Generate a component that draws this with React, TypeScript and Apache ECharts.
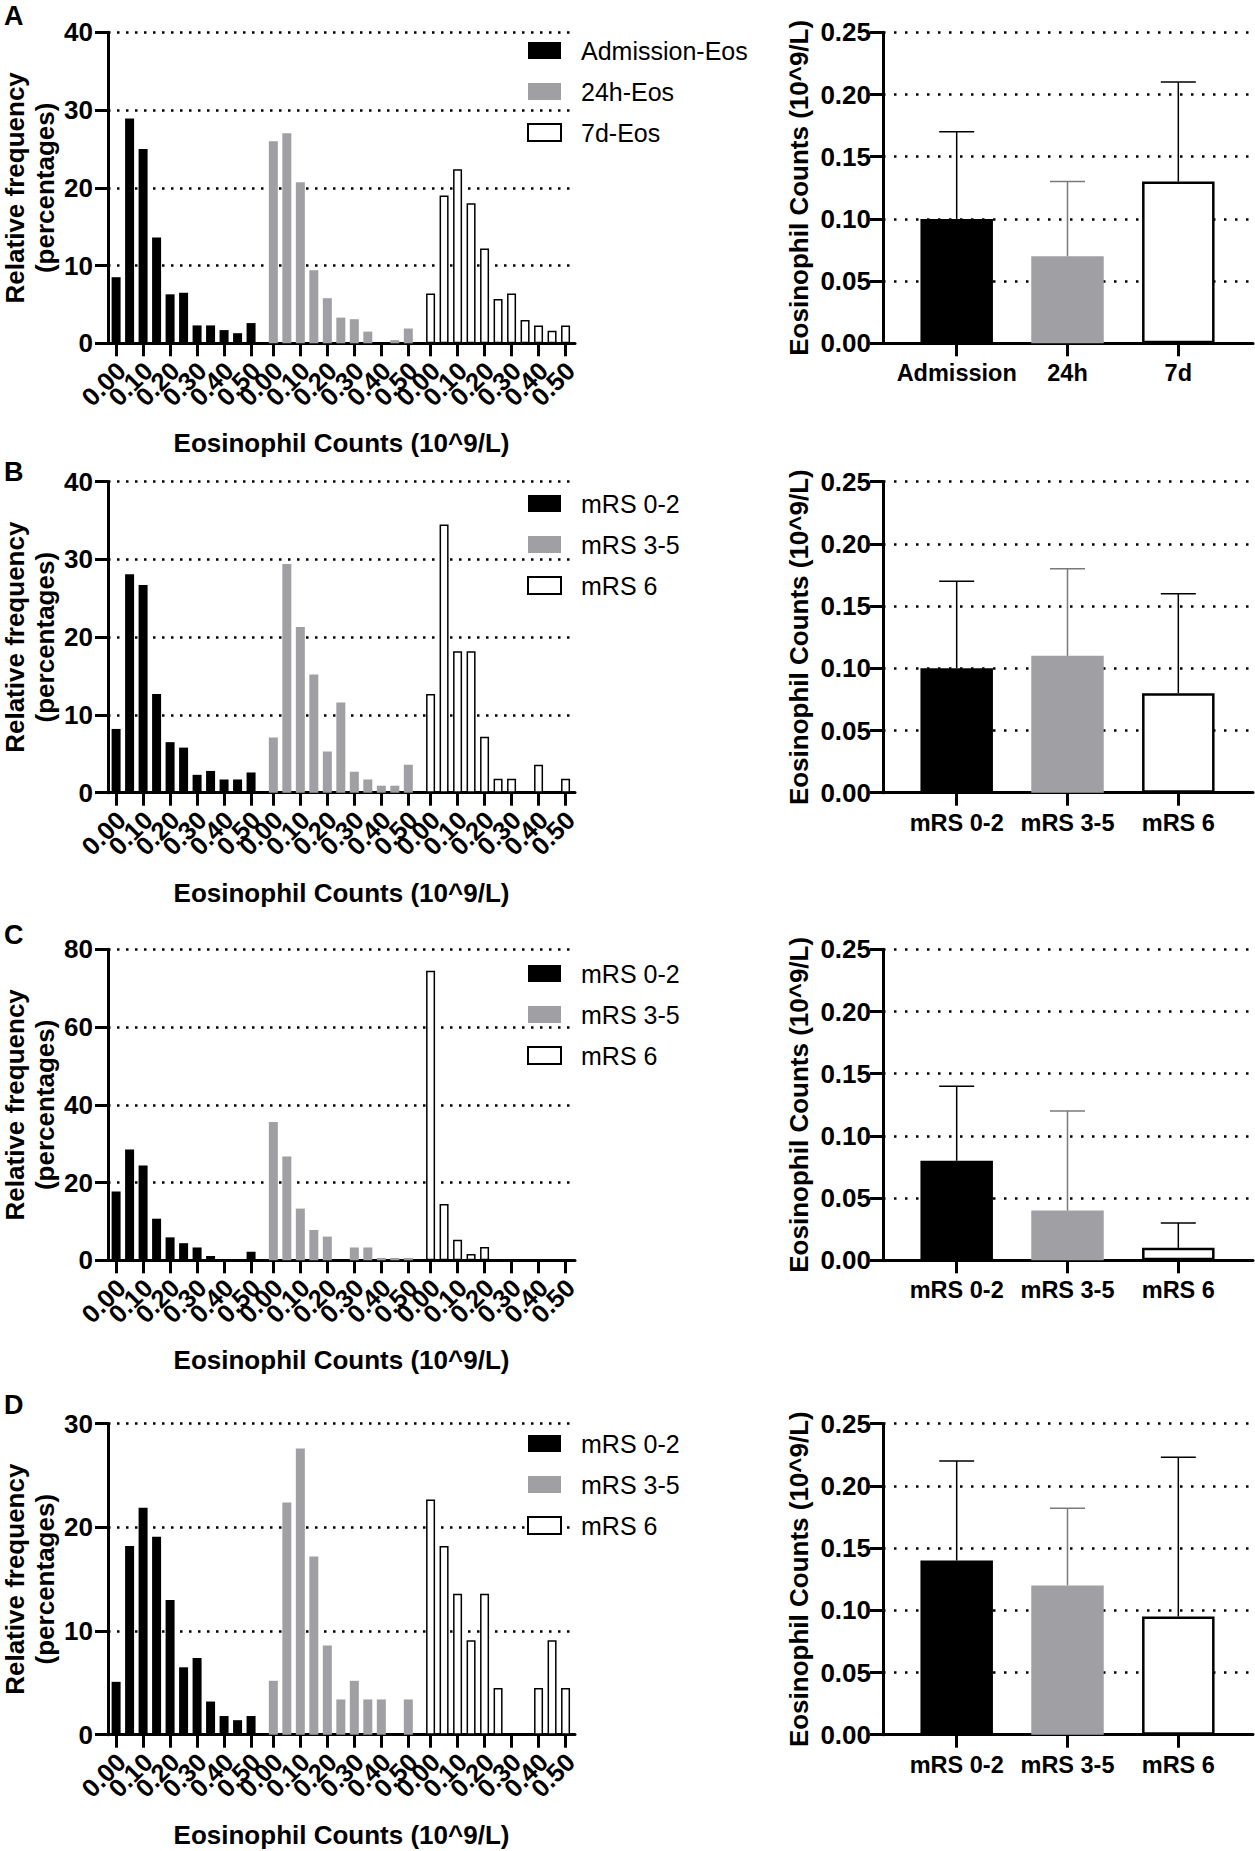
import React, { useEffect, useRef } from 'react';
import * as echarts from 'echarts';

const FONT = "'Liberation Sans', Arial, Helvetica, sans-serif";

// ---- histogram bins (10^9/L) ----
const BINS = [0.0, 0.05, 0.1, 0.15, 0.2, 0.25, 0.3, 0.35, 0.4, 0.45, 0.5];
const BIN_TICKS = [0.0, 0.1, 0.2, 0.3, 0.4, 0.5];
const BIN_TICK_LABELS = ['0.00', '0.10', '0.20', '0.30', '0.40', '0.50'];

// ---- panel A ----
const A_LEGEND = ['Admission-Eos', '24h-Eos', '7d-Eos'];
const A_ADMISSION = [8.5, 28.9, 25.0, 13.6, 6.3, 6.5, 2.3, 2.3, 1.7, 1.3, 2.6];
const A_24H = [26.0, 27.0, 20.7, 9.4, 5.8, 3.3, 3.1, 1.5, 0, 0.4, 1.9];
const A_7D = [6.4, 19.0, 22.4, 18.0, 12.2, 5.7, 6.4, 3.0, 2.3, 1.6, 2.3];
const A_CATS = ['Admission', '24h', '7d'];
const A_MEANS = [0.1, 0.07, 0.13];
const A_UPPER = [0.17, 0.13, 0.21];

// ---- panel B ----
const MRS_LEGEND = ['mRS 0-2', 'mRS 3-5', 'mRS 6'];
const MRS_CATS = ['mRS 0-2', 'mRS 3-5', 'mRS 6'];
const B_MRS02 = [8.2, 28.1, 26.7, 12.7, 6.5, 5.8, 2.3, 2.8, 1.7, 1.7, 2.6];
const B_MRS35 = [7.1, 29.4, 21.3, 15.2, 5.3, 11.6, 2.7, 1.7, 0.9, 0.9, 3.6];
const B_MRS6 = [12.7, 34.5, 18.2, 18.2, 7.2, 1.8, 1.8, 0, 3.6, 0, 1.8];
const B_MEANS = [0.1, 0.11, 0.08];
const B_UPPER = [0.17, 0.18, 0.16];

// ---- panel C ----
const C_MRS02 = [17.7, 28.5, 24.4, 10.7, 5.9, 4.4, 3.3, 1.1, 0, 0, 2.2];
const C_MRS35 = [35.6, 26.7, 13.3, 7.8, 6.1, 0, 3.3, 3.3, 0.6, 0.6, 0.6];
const C_MRS6 = [74.5, 14.5, 5.3, 1.6, 3.4, 0, 0, 0, 0, 0, 0];
const C_MEANS = [0.08, 0.04, 0.01];
const C_UPPER = [0.14, 0.12, 0.03];

// ---- panel D ----
const D_MRS02 = [5.1, 18.2, 21.9, 19.1, 13.0, 6.5, 7.4, 3.2, 1.8, 1.4, 1.8];
const D_MRS35 = [5.2, 22.4, 27.6, 17.2, 8.6, 3.4, 5.2, 3.4, 3.4, 0, 3.4];
const D_MRS6 = [22.7, 18.2, 13.6, 9.1, 13.6, 4.5, 0, 0, 4.5, 9.1, 4.5];
const D_MEANS = [0.14, 0.12, 0.095];
const D_UPPER = [0.22, 0.182, 0.223];

// ---- axis ranges ----
const HIST_Y_MAX = [40, 40, 80, 30];
const HIST_Y_INTERVAL = [10, 10, 20, 10];
const BAR_Y_MAX = 0.25;
const BAR_Y_INTERVAL = 0.05;
const LETTERS = ['A', 'B', 'C', 'D'];

// ---- layout ----
const W = 1255;
const H = 1851;
const GRID_TOPS = [32.3, 481.7, 949.3, 1423.7];
const GRID_H = 311;
const HIST_LEFT = 108;
const HIST_W = 467;
const BAR_LEFT = 883;
const BAR_W = 370;
const LEGEND_TOPS = [38, 491, 961, 1431];
const LETTER_TOPS = [2, 458, 921, 1391];
const GROUP_OFFSET = 0.5825;
const HIST_X_MIN = -0.03;
const HIST_X_MAX = 1.7;
const BAR_X_MIN = -0.665;
const BAR_X_MAX = 2.674;

const BLACK = '#000000';
const GRAY = '#a0a0a4';
const GRAY_ERR = '#7a7a7a';

const histStyles = [
  { color: BLACK },
  { color: GRAY },
  { color: '#ffffff', borderColor: BLACK, borderWidth: 1.5 },
];
const barStyles = [
  { color: BLACK },
  { color: GRAY },
  { color: '#ffffff', borderColor: BLACK, borderWidth: 2.5 },
];
const errColors = [BLACK, GRAY_ERR, BLACK];

const HIST_DATA = [
  [A_ADMISSION, A_24H, A_7D],
  [B_MRS02, B_MRS35, B_MRS6],
  [C_MRS02, C_MRS35, C_MRS6],
  [D_MRS02, D_MRS35, D_MRS6],
];
const LEGENDS = [A_LEGEND, MRS_LEGEND, MRS_LEGEND, MRS_LEGEND];
const CATS = [A_CATS, MRS_CATS, MRS_CATS, MRS_CATS];
const MEANS = [A_MEANS, B_MEANS, C_MEANS, D_MEANS];
const UPPERS = [A_UPPER, B_UPPER, C_UPPER, D_UPPER];

// tick positions of the three side-by-side histograms on one shared value axis
const TICK_VALUES: number[] = [];
const TICK_TEXT: string[] = [];
for (let g = 0; g < 3; g++) {
  BIN_TICKS.forEach((t, k) => {
    TICK_VALUES.push(g * GROUP_OFFSET + t);
    TICK_TEXT.push(BIN_TICK_LABELS[k]);
  });
}
// labels split in two interleaved sets so that no label gets hidden as "overlapping"
const TICK_EVEN = TICK_VALUES.filter((_, i) => i % 2 === 0);
const TICK_ODD = TICK_VALUES.filter((_, i) => i % 2 === 1);

function nearestTick(v: number) {
  let best = 0;
  let bd = Infinity;
  TICK_VALUES.forEach((t, i) => {
    const d = Math.abs(t - v);
    if (d < bd) {
      bd = d;
      best = i;
    }
  });
  return TICK_TEXT[best];
}

const labelBase = {
  color: BLACK,
  fontFamily: FONT,
  fontWeight: 'bold' as const,
};
const titleStyle = {
  color: BLACK,
  fontFamily: FONT,
  fontWeight: 'bold' as const,
  fontSize: 26,
};
const axisLine = { show: true, onZero: false, lineStyle: { color: BLACK, width: 3 } };
const axisTick = { show: true, length: 13, lineStyle: { color: BLACK, width: 3 } };

const rotatedLabel = {
  ...labelBase,
  fontSize: 25.5,
  interval: 0,
  rotate: 45,
  margin: 18,
  align: 'right',
  verticalAlign: 'top',
  lineHeight: 14,
  showMinLabel: true,
  showMaxLabel: true,
  hideOverlap: false,
  formatter: (v: number) => nearestTick(v),
};

function buildOption() {
  const grid: any[] = [];
  const xAxis: any[] = [];
  const yAxis: any[] = [];
  const series: any[] = [];
  const legend: any[] = [];
  const graphic: any[] = [];

  for (let p = 0; p < 4; p++) {
    const hg = 2 * p; // histogram grid
    const bg = 2 * p + 1; // bar grid
    const hx = 3 * p; // histogram x axis (line, ticks, even labels)
    const bx = 3 * p + 2; // bar x axis
    const hy = 2 * p;
    const by = 2 * p + 1;

    grid.push({ left: HIST_LEFT, top: GRID_TOPS[p], width: HIST_W, height: GRID_H, containLabel: false, outerBoundsMode: 'none' });
    grid.push({ left: BAR_LEFT, top: GRID_TOPS[p], width: BAR_W, height: GRID_H, containLabel: false, outerBoundsMode: 'none' });

    xAxis.push({
      gridIndex: hg,
      type: 'value',
      position: 'bottom',
      min: HIST_X_MIN,
      max: HIST_X_MAX,
      axisLine,
      axisTick: { ...axisTick, customValues: TICK_VALUES },
      axisLabel: { ...rotatedLabel, customValues: TICK_EVEN },
      splitLine: { show: false },
      name: 'Eosinophil Counts (10^9/L)',
      nameLocation: 'middle',
      nameGap: 87,
      nameMoveOverlap: false,
      nameTextStyle: titleStyle,
    });
    xAxis.push({
      gridIndex: hg,
      type: 'value',
      position: 'bottom',
      min: HIST_X_MIN,
      max: HIST_X_MAX,
      axisLine: { show: false, onZero: false },
      axisTick: { show: false },
      axisLabel: { ...rotatedLabel, customValues: TICK_ODD },
      splitLine: { show: false },
    });
    yAxis.push({
      gridIndex: hg,
      type: 'value',
      min: 0,
      max: HIST_Y_MAX[p],
      interval: HIST_Y_INTERVAL[p],
      axisLine,
      axisTick,
      axisLabel: { ...labelBase, fontSize: 26, margin: 15 },
      splitLine: { show: true, lineStyle: { color: BLACK, width: 2.5, type: [2.5, 6.5] } },
      name: 'Relative frequency\n(percentages)',
      nameLocation: 'middle',
      nameRotate: 90,
      nameGap: 48,
      nameMoveOverlap: false,
      nameTextStyle: { ...titleStyle, lineHeight: 30 },
    });

    xAxis.push({
      gridIndex: bg,
      type: 'value',
      position: 'bottom',
      min: BAR_X_MIN,
      max: BAR_X_MAX,
      axisLine,
      axisTick: { ...axisTick, customValues: [0, 1, 2] },
      axisLabel: {
        ...labelBase,
        fontSize: 23.5,
        customValues: [0, 1, 2],
        interval: 0,
        margin: 18,
        showMinLabel: true,
        showMaxLabel: true,
        formatter: (v: number) => CATS[p][Math.round(v)],
      },
      splitLine: { show: false },
    });
    yAxis.push({
      gridIndex: bg,
      type: 'value',
      min: 0,
      max: BAR_Y_MAX,
      interval: BAR_Y_INTERVAL,
      axisLine,
      axisTick,
      axisLabel: { ...labelBase, fontSize: 26, margin: 12, formatter: (v: number) => v.toFixed(2) },
      splitLine: { show: true, lineStyle: { color: BLACK, width: 2.5, type: [2.5, 8.5] } },
      name: 'Eosinophil Counts (10^9/L)',
      nameLocation: 'middle',
      nameRotate: 90,
      nameGap: 71,
      nameMoveOverlap: false,
      nameTextStyle: titleStyle,
    });

    HIST_DATA[p].forEach((vals, g) => {
      const data: number[][] = [];
      vals.forEach((v, k) => {
        if (v > 0) data.push([g * GROUP_OFFSET + BINS[k], v]);
      });
      series.push({
        type: 'bar',
        name: LEGENDS[p][g],
        xAxisIndex: hx,
        yAxisIndex: hy,
        barWidth: 9,
        barGap: '-100%',
        itemStyle: histStyles[g],
        data,
      });
    });

    series.push({
      type: 'bar',
      name: 'mean-' + LETTERS[p],
      xAxisIndex: bx,
      yAxisIndex: by,
      barWidth: 72.5,
      data: MEANS[p].map((m, k) => ({ value: [k, m], itemStyle: barStyles[k] })),
    });
    series.push({
      type: 'custom',
      name: 'sd-' + LETTERS[p],
      xAxisIndex: bx,
      yAxisIndex: by,
      z: 3,
      data: MEANS[p].map((m, k) => [k, m, UPPERS[p][k], k]),
      encode: { x: 0, y: 2 },
      renderItem: (params: any, api: any) => {
        const x = api.value(0);
        const m = api.value(1);
        const u = api.value(2);
        const c = errColors[api.value(3)];
        const p0 = api.coord([x, m]);
        const p1 = api.coord([x, u]);
        const style = { stroke: c, lineWidth: 1.5 };
        return {
          type: 'group',
          children: [
            { type: 'line', shape: { x1: p0[0], y1: p0[1], x2: p1[0], y2: p1[1] }, style },
            { type: 'line', shape: { x1: p1[0] - 17.5, y1: p1[1], x2: p1[0] + 17.5, y2: p1[1] }, style },
          ],
        };
      },
    });

    legend.push({
      orient: 'vertical',
      left: 527,
      top: LEGEND_TOPS[p],
      padding: 0,
      icon: 'rect',
      itemWidth: 33,
      itemHeight: 17,
      itemGap: 16,
      selectedMode: false,
      data: LEGENDS[p],
      textStyle: { color: BLACK, fontFamily: FONT, fontSize: 25, lineHeight: 25, padding: [0, 0, 0, 15] },
    });

    graphic.push({
      type: 'text',
      left: 4,
      top: LETTER_TOPS[p],
      style: { text: LETTERS[p], fill: BLACK, font: `bold 27px ${FONT}` },
    });
  }

  return {
    animation: false,
    backgroundColor: '#ffffff',
    grid,
    xAxis,
    yAxis,
    series,
    legend,
    graphic,
  };
}

export default function App() {
  const ref = useRef<HTMLDivElement>(null);
  useEffect(() => {
    document.body.style.margin = '0';
    if (!ref.current) return;
    const chart = echarts.init(ref.current, undefined, { renderer: 'svg', width: W, height: H });
    chart.setOption(buildOption() as any);
    return () => chart.dispose();
  }, []);
  return <div ref={ref} style={{ width: W, height: H }} />;
}
